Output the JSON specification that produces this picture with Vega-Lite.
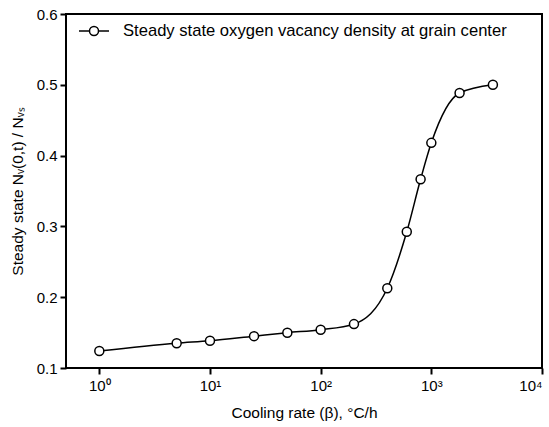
{
  "$schema": "https://vega.github.io/schema/vega-lite/v6.json",
  "autosize": {"type": "none"},
  "padding": {"left": 66, "top": 14, "right": 7, "bottom": 59},
  "width": 476,
  "height": 354,
  "background": "white",
  "config": {
    "view": {"stroke": "black", "strokeWidth": 2},
    "font": "Liberation Sans",
    "axis": {
      "domain": false,
      "grid": false,
      "ticks": true,
      "tickColor": "black",
      "tickWidth": 2,
      "tickSize": 6,
      "labelFont": "Liberation Sans",
      "labelFontSize": 15,
      "labelColor": "black",
      "titleFont": "Liberation Sans",
      "titleFontSize": 15.5,
      "titleFontWeight": "normal",
      "titleColor": "black"
    }
  },
  "data": {
    "values": [
      {"rate": 1, "density": 0.124, "series": "Steady state oxygen vacancy density at grain center"},
      {"rate": 5, "density": 0.135, "series": "Steady state oxygen vacancy density at grain center"},
      {"rate": 10, "density": 0.1385, "series": "Steady state oxygen vacancy density at grain center"},
      {"rate": 25, "density": 0.145, "series": "Steady state oxygen vacancy density at grain center"},
      {"rate": 50, "density": 0.1499, "series": "Steady state oxygen vacancy density at grain center"},
      {"rate": 100, "density": 0.1541, "series": "Steady state oxygen vacancy density at grain center"},
      {"rate": 200, "density": 0.162, "series": "Steady state oxygen vacancy density at grain center"},
      {"rate": 400, "density": 0.2126, "series": "Steady state oxygen vacancy density at grain center"},
      {"rate": 600, "density": 0.2924, "series": "Steady state oxygen vacancy density at grain center"},
      {"rate": 800, "density": 0.3666, "series": "Steady state oxygen vacancy density at grain center"},
      {"rate": 1000, "density": 0.418, "series": "Steady state oxygen vacancy density at grain center"},
      {"rate": 1800, "density": 0.4884, "series": "Steady state oxygen vacancy density at grain center"},
      {"rate": 3600, "density": 0.5, "series": "Steady state oxygen vacancy density at grain center"}
    ]
  },
  "encoding": {
    "x": {
      "field": "rate",
      "type": "quantitative",
      "scale": {"type": "log", "domain": [0.5, 10000], "nice": false},
      "axis": {
        "values": [1, 10, 100, 1000, 10000],
        "labelExpr": "'10' + ['⁰','¹','²','³','⁴'][round(log(datum.value)/LN10)]",
        "labelPadding": 4,
        "titlePadding": 12,
        "title": "Cooling rate (β), °C/h"
      }
    },
    "y": {
      "field": "density",
      "type": "quantitative",
      "scale": {"domain": [0.1, 0.6], "nice": false, "zero": false},
      "axis": {
        "values": [0.1, 0.2, 0.3, 0.4, 0.5, 0.6],
        "format": ".1f",
        "labelPadding": 3,
        "titlePadding": 11,
        "title": "Steady state Nᵥ(0,t) / Nᵥₛ"
      }
    }
  },
  "layer": [
    {
      "mark": {"type": "line", "interpolate": "monotone", "strokeWidth": 1.5},
      "encoding": {
        "color": {
          "field": "series",
          "type": "nominal",
          "scale": {"range": ["black"]},
          "legend": {
            "title": null,
            "orient": "none",
            "legendX": 12,
            "legendY": 1,
            "padding": 0,
            "symbolSize": 900,
            "labelOffset": 13,
            "labelFont": "Liberation Sans",
            "labelFontSize": 16.6,
            "labelColor": "black",
            "labelLimit": 600,
            "encode": {
              "symbols": {
                "update": {
                  "shape": {"value": "M-1,0L-0.3,0M0.3,0L1,0M-0.3,0A0.3,0.3 0 1,1 0.3,0A0.3,0.3 0 1,1 -0.3,0Z"},
                  "size": {"value": 900},
                  "fill": {"value": "white"},
                  "stroke": {"value": "black"},
                  "strokeWidth": {"value": 1.5},
                  "opacity": {"value": 1}
                }
              }
            }
          }
        }
      }
    },
    {
      "mark": {"type": "point", "shape": "circle", "filled": true, "fill": "white", "stroke": "black", "strokeWidth": 1.5, "size": 81, "opacity": 1}
    }
  ]
}
